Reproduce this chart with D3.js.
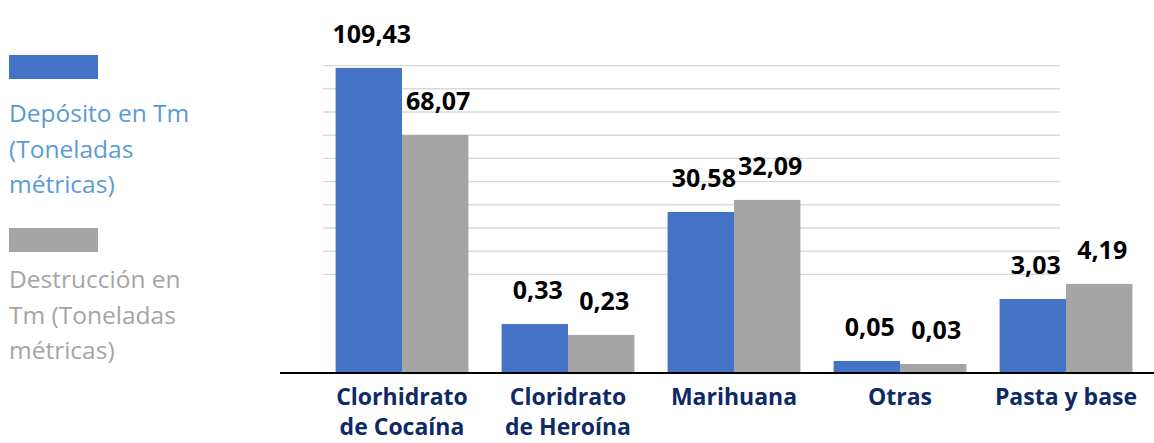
<!DOCTYPE html>
<html>
<head>
<meta charset="utf-8">
<script src="https://cdnjs.cloudflare.com/ajax/libs/d3/7.8.5/d3.min.js"></script>
<style>
  body { margin: 0; background: #fff; }
  svg { display: block; }
</style>
</head>
<body>
<svg id="chart" width="1154" height="443"></svg>
<script>
// categories and values
const categories = [
  ["Clorhidrato", "de Cocaína"],
  ["Cloridrato", "de Heroína"],
  ["Marihuana"],
  ["Otras"],
  ["Pasta y base"]
];
const series = ["Depósito en Tm (Toneladas métricas)", "Destrucción en Tm (Toneladas métricas)"];
// printed labels
const labelDeposito = ["109,43", "0,33", "30,58", "0,05", "3,03"];
const labelDestruccion = ["68,07", "0,23", "32,09", "0,03", "4,19"];
// bar heights as drawn (the source chart does not draw them to scale)
const barDeposito = [13.15, 2.11, 6.94, 0.52, 3.19];
const barDestruccion = [10.26, 1.64, 7.46, 0.39, 3.84];
const gridValues = [4.25, 5.25, 6.25, 7.25, 8.25, 9.25, 10.25, 11.25, 12.25, 13.25];

const colors = ["#4472c4", "#a5a5a5"];
const legendText = [
  ["Depósito en Tm", "(Toneladas", "métricas)"],
  ["Destrucción en", "Tm (Toneladas", "métricas)"]
];
const legendColors = ["#5b9bd5", "#a5a5a5"];

const svg = d3.select("#chart");
const baseY = 373;

const x = d3.scaleBand().domain(d3.range(categories.length)).range([319, 1149]).paddingInner(0.2).paddingOuter(0.1);
const xs = d3.scaleBand().domain([0, 1]).range([0, x.bandwidth()]);
const y = d3.scaleLinear().domain([0, 14]).range([baseY, baseY - 14 * 23.2]);

// grid
svg.append("g").selectAll("line").data(gridValues).enter().append("line")
  .attr("x1", 323).attr("x2", 1060)
  .attr("y1", d => y(d)).attr("y2", d => y(d))
  .attr("stroke", "#d9d9d9").attr("stroke-width", 1.4);

// bars
const data = categories.map(function(c, i) {
  return [
    {s: 0, i: i, v: barDeposito[i], label: labelDeposito[i]},
    {s: 1, i: i, v: barDestruccion[i], label: labelDestruccion[i]}
  ];
});

const groups = svg.append("g").selectAll("g").data(data).enter().append("g")
  .attr("transform", (d, i) => `translate(${x(i)},0)`);

groups.selectAll("rect").data(d => d).enter().append("rect")
  .attr("x", d => xs(d.s))
  .attr("width", xs.bandwidth())
  .attr("y", d => y(d.v))
  .attr("height", d => baseY - y(d.v))
  .attr("fill", d => colors[d.s]);

groups.selectAll("text").data(d => d).enter().append("text")
  .attr("x", d => xs(d.s) + xs.bandwidth() / 2 + 3)
  .attr("y", d => y(d.v) - 25)
  .attr("text-anchor", "middle")
  .attr("font-family", "'Open Sans', sans-serif")
  .attr("font-weight", "bold")
  .attr("font-size", 25)
  .attr("fill", "#000")
  .text(d => d.label);

// baseline
svg.append("line").attr("x1", 280).attr("x2", 1154).attr("y1", baseY).attr("y2", baseY)
  .attr("stroke", "#000").attr("stroke-width", 2);

// category labels
const catText = svg.append("g").selectAll("text").data(categories).enter().append("text")
  .attr("x", (d, i) => x(i) + x.bandwidth() / 2)
  .attr("y", 405)
  .attr("text-anchor", "middle")
  .attr("font-family", "'Open Sans', sans-serif")
  .attr("font-weight", "bold")
  .attr("font-size", 23)
  .attr("fill", "#0e2a66");
catText.selectAll("tspan").data(d => d).enter().append("tspan")
  .attr("x", function() { return d3.select(this.parentNode).attr("x"); })
  .attr("dy", (d, j) => j ? 30 : 0)
  .text(d => d);

// legend
const legendTop = [55, 228];
const legendTextTop = [122, 288];
const legend = svg.append("g").selectAll("g").data(series).enter().append("g");
legend.append("rect").attr("x", 9).attr("y", (d, i) => legendTop[i]).attr("width", 89).attr("height", 24)
  .attr("fill", (d, i) => colors[i]);
const lt = legend.append("text")
  .attr("font-family", "'Open Sans', sans-serif")
  .attr("font-size", 24.5)
  .attr("fill", (d, i) => legendColors[i]);
lt.selectAll("tspan").data((d, i) => legendText[i].map(t => [t, i])).enter().append("tspan")
  .attr("x", 9)
  .attr("y", (d, j) => legendTextTop[d[1]] + j * 35.5)
  .text(d => d[0]);
</script>
</body>
</html>
